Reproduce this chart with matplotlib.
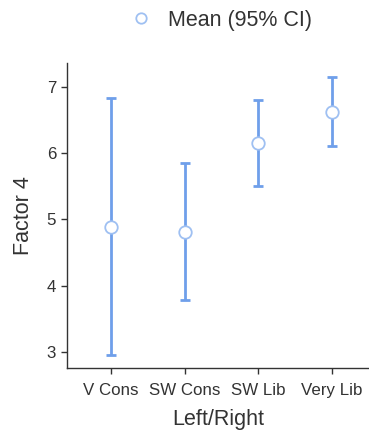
import matplotlib
matplotlib.use("Agg")
import matplotlib.pyplot as plt
from matplotlib.lines import Line2D

categories = ["V Cons", "SW Cons", "SW Lib", "Very Lib"]
means = [4.89, 4.81, 6.15, 6.62]
lower = [2.95, 3.78, 5.50, 6.10]
upper = [6.82, 5.85, 6.80, 7.15]

plt.rcParams['font.family'] = ['Liberation Sans', 'DejaVu Sans']
blue = "#6f9fea"
edge = "#9fc0f2"
txt = "#333333"

fig = plt.figure(figsize=(3.69, 4.32), dpi=100)
ax = fig.add_axes([0.1807, 0.148, 0.8193, 0.7055])
x = list(range(len(categories)))
yerr = [[m - l for m, l in zip(means, lower)], [u - m for m, u in zip(means, upper)]]
ax.errorbar(x, means, yerr=yerr, fmt='none', ecolor=blue, elinewidth=2.0, capsize=3.5, capthick=2.0, zorder=2)
ax.plot(x, means, 'o', ms=9, mfc='white', mec=edge, mew=1.3, zorder=3)

ax.set_xlim(-0.6, 3.5)
ax.set_ylim(2.76, 7.35)
ax.set_xticks(x)
ax.set_xticklabels(categories)
ax.set_yticks([3, 4, 5, 6, 7])
ax.tick_params(axis='both', colors=txt, labelsize=12.2, length=4, width=1)
ax.tick_params(axis='x', pad=7)
for s in ['top', 'right']:
    ax.spines[s].set_visible(False)
for s in ['left', 'bottom']:
    ax.spines[s].set_color(txt)
    ax.spines[s].set_linewidth(1)
ax.set_xlabel("Left/Right", fontsize=15.5, color=txt, labelpad=8)
ax.set_ylabel("Factor 4", fontsize=15.5, color=txt, labelpad=9)

handle = Line2D([], [], marker='o', ls='none', ms=7.5, mfc='white', mec=edge, mew=1.3)
fig.legend([handle], ["Mean (95% CI)"], loc='center', bbox_to_anchor=(0.593, 0.953),
           frameon=False, fontsize=15.5, labelcolor=txt, handletextpad=0.5, handlelength=1.5)

fig.savefig("out.png", dpi=100)
